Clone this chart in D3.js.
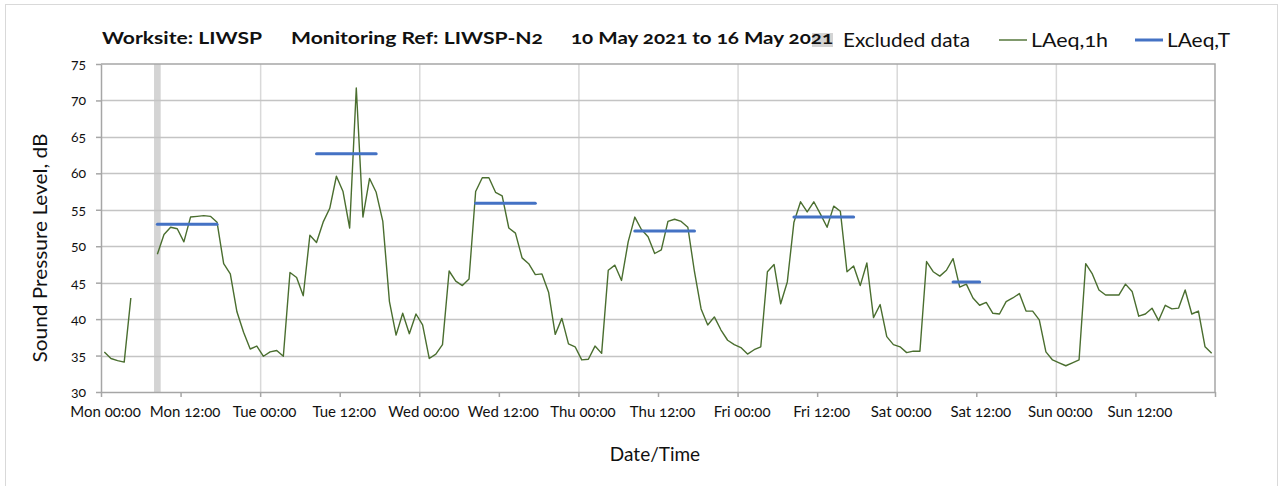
<!DOCTYPE html>
<html>
<head>
<meta charset="utf-8">
<script src="https://cdn.jsdelivr.net/npm/d3@7"></script>
<style>
  body { margin: 0; background: #fff; }
  svg text { font-family: Lato, "Open Sans", sans-serif; font-variant-numeric: oldstyle-nums; fill: #111; }
</style>
</head>
<body>
<div id="chart"></div>
<script>
// hourly LAeq,1h (dB), Mon 00:00 .. Sun 23:00, null = no data
const laeq1h = [
  35.5, 34.6, 34.3, 34.1, 42.9, null, null, null, 48.9, 51.6, 52.6, 52.4,
  50.6, 54.0, 54.1, 54.2, 54.1, 53.3, 47.6, 46.2, 41.0, 38.2, 35.9, 36.3,
  34.9, 35.5, 35.7, 34.9, 46.4, 45.7, 43.2, 51.5, 50.5, 53.3, 55.2, 59.6,
  57.5, 52.5, 71.7, 54.0, 59.3, 57.4, 53.4, 42.4, 37.8, 40.8, 38.0, 40.7,
  39.2, 34.6, 35.2, 36.5, 46.6, 45.2, 44.6, 45.5, 57.5, 59.4, 59.4, 57.4,
  56.9, 52.5, 51.8, 48.4, 47.6, 46.1, 46.2, 43.7, 37.9, 40.1, 36.6, 36.2,
  34.4, 34.5, 36.3, 35.3, 46.7, 47.4, 45.3, 50.6, 54.0, 52.3, 51.3, 49.0,
  49.5, 53.4, 53.7, 53.4, 52.6, 46.5, 41.4, 39.2, 40.3, 38.5, 37.1, 36.5,
  36.1, 35.2, 35.8, 36.2, 46.5, 47.5, 42.1, 45.1, 53.3, 56.1, 54.7, 56.1,
  54.4, 52.6, 55.5, 54.8, 46.5, 47.3, 44.6, 47.7, 40.2, 42.0, 37.6, 36.5,
  36.2, 35.4, 35.6, 35.6, 47.9, 46.5, 45.9, 46.7, 48.3, 44.4, 44.8, 42.9,
  41.9, 42.3, 40.8, 40.7, 42.4, 42.9, 43.5, 41.1, 41.1, 39.9, 35.5, 34.4,
  34.0, 33.6, 34.0, 34.4, 47.6, 46.2, 44.0, 43.3, 43.3, 43.3, 44.8, 43.8,
  40.4, 40.7, 41.5, 39.8, 41.9, 41.4, 41.5, 44.0, 40.7, 41.1, 36.2, 35.3
];

// LAeq,T daytime periods (first hour, last hour, level)
const laeqTStart = [8, 32, 56, 80, 104, 128];
const laeqTEnd = [17, 41, 65, 89, 113, 132];
const laeqTValue = [53.0, 62.7, 55.9, 52.1, 54.0, 45.1];

// excluded hours
const excludedStart = [8];
const excludedEnd = [9];

const tickLabels = [
  'Mon 00:00', 'Mon 12:00', 'Tue 00:00', 'Tue 12:00', 'Wed 00:00', 'Wed 12:00',
  'Thu 00:00', 'Thu 12:00', 'Fri 00:00', 'Fri 12:00', 'Sat 00:00', 'Sat 12:00',
  'Sun 00:00', 'Sun 12:00', ''
];
const yTicks = [30, 35, 40, 45, 50, 55, 60, 65, 70, 75];

const width = 1282, height = 486;
const margin = { top: 64, right: 67, bottom: 94, left: 101 };

const svg = d3.select('#chart').append('svg')
  .attr('width', width)
  .attr('height', height);

// outer chart frame
svg.append('rect')
  .attr('x', 5.5).attr('y', 4.5)
  .attr('width', 1272).attr('height', 520)
  .attr('fill', 'none')
  .attr('stroke', '#d9d9d9');

const x = d3.scaleLinear().domain([0, 168]).range([margin.left, width - margin.right]);
const y = d3.scaleLinear().domain([30, 75]).range([height - margin.bottom, margin.top]);

// excluded band
svg.selectAll('.excluded')
  .data(excludedStart)
  .join('rect')
  .attr('class', 'excluded')
  .attr('x', (d) => x(d))
  .attr('width', (d, i) => x(excludedEnd[i]) - x(d))
  .attr('y', y(75))
  .attr('height', y(30) - y(75))
  .attr('fill', '#d4d4d4');

// grid
svg.append('g')
  .selectAll('line')
  .data(d3.range(24, 168, 24))
  .join('line')
  .attr('x1', (d) => x(d) + 0.5).attr('x2', (d) => x(d) + 0.5)
  .attr('y1', y(75)).attr('y2', y(30))
  .attr('stroke', '#d9d9d9')
  .attr('stroke-width', 1.5);

svg.append('g')
  .selectAll('line')
  .data(yTicks.slice(1, -1))
  .join('line')
  .attr('x1', x(0)).attr('x2', x(168))
  .attr('y1', (d) => Math.round(y(d)) + 0.5).attr('y2', (d) => Math.round(y(d)) + 0.5)
  .attr('stroke', '#c4c4c4')
  .attr('stroke-width', 1.5);

// plot border top / right
svg.append('path')
  .attr('d', `M${x(0)},${y(75)}H${x(168)}V${y(30)}`)
  .attr('fill', 'none')
  .attr('stroke', '#a6a6a6')
  .attr('stroke-width', 1.5);

// axes
const xAxis = svg.append('g')
  .attr('transform', `translate(0,${y(30)})`)
  .call(d3.axisBottom(x)
    .tickValues(d3.range(0, 169, 12))
    .tickFormat((d, i) => tickLabels[i])
    .tickSize(5)
    .tickSizeOuter(0)
    .tickPadding(9));

const yAxis = svg.append('g')
  .attr('transform', `translate(${x(0)},0)`)
  .call(d3.axisLeft(y)
    .tickValues(yTicks)
    .tickSize(5)
    .tickSizeOuter(0)
    .tickPadding(10));

[xAxis, yAxis].forEach((g) => {
  g.select('.domain').attr('stroke', '#a6a6a6').attr('stroke-width', 1.5);
  g.selectAll('.tick line').attr('stroke', '#a6a6a6').attr('stroke-width', 1.5);
  g.selectAll('.tick text').attr('font-size', 14).attr('fill', '#111');
});
xAxis.selectAll('.tick text').attr('font-size', 15).attr('dx', 4);

// LAeq,1h line
const line = d3.line()
  .defined((d) => d != null)
  .x((d, i) => x(i + 0.5))
  .y((d) => y(d));

svg.append('path')
  .datum(laeq1h)
  .attr('d', line)
  .attr('fill', 'none')
  .attr('stroke', '#4a6e2f')
  .attr('stroke-width', 1.4)
  .attr('stroke-linejoin', 'round');

// LAeq,T segments
svg.selectAll('.laeqT')
  .data(laeqTValue)
  .join('line')
  .attr('class', 'laeqT')
  .attr('x1', (d, i) => x(laeqTStart[i] + 0.5))
  .attr('x2', (d, i) => x(laeqTEnd[i] + 0.5))
  .attr('y1', (d) => y(d))
  .attr('y2', (d) => y(d))
  .attr('stroke', '#4472c4')
  .attr('stroke-width', 3)
  .attr('stroke-linecap', 'round');

// axis titles
svg.append('text')
  .attr('transform', 'translate(47,248) rotate(-90)')
  .attr('text-anchor', 'middle')
  .attr('font-size', 19)
  .attr('textLength', 229)
  .attr('lengthAdjust', 'spacingAndGlyphs')
  .text('Sound Pressure Level, dB');

svg.append('text')
  .attr('x', 655).attr('y', 461)
  .attr('text-anchor', 'middle')
  .attr('font-size', 19)
  .text('Date/Time');

// legend swatch sits under the title end
svg.append('rect')
  .attr('x', 812).attr('y', 33)
  .attr('width', 21).attr('height', 14)
  .attr('fill', '#d4d4d4');

// title
const titleParts = ['Worksite: LIWSP', 'Monitoring Ref: LIWSP-N2', '10 May 2021 to 16 May 2021'];
const titleX = [102, 291, 571];
const titleW = [160, 252, 262];
svg.selectAll('.title')
  .data(titleParts)
  .join('text')
  .attr('class', 'title')
  .attr('x', (d, i) => titleX[i])
  .attr('y', 44)
  .attr('font-size', 17)
  .attr('font-weight', 'bold')
  .attr('textLength', (d, i) => titleW[i])
  .attr('lengthAdjust', 'spacingAndGlyphs')
  .text((d) => d);

// legend
const legendText = ['Excluded data', 'LAeq,1h', 'LAeq,T'];
const legendX = [843, 1031, 1167];
const legendW = [127, 77, 63];
const legend = svg.append('g').attr('font-size', 20);
legend.selectAll('text')
  .data(legendText)
  .join('text')
  .attr('x', (d, i) => legendX[i])
  .attr('y', 47)
  .attr('textLength', (d, i) => legendW[i])
  .attr('lengthAdjust', 'spacingAndGlyphs')
  .text((d) => d);
legend.append('line')
  .attr('x1', 999).attr('x2', 1027).attr('y1', 40).attr('y2', 40)
  .attr('stroke', '#4a6e2f').attr('stroke-width', 1.4);
legend.append('line')
  .attr('x1', 1135).attr('x2', 1163).attr('y1', 40).attr('y2', 40)
  .attr('stroke', '#4472c4').attr('stroke-width', 3);
</script>
</body>
</html>
